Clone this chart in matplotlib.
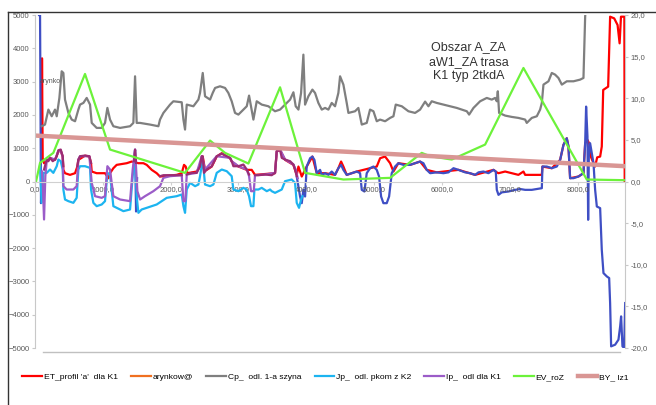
import numpy as np
import matplotlib.pyplot as plt
from matplotlib.lines import Line2D
from matplotlib.ticker import FuncFormatter

plt.rcParams['font.family'] = ['Liberation Sans', 'DejaVu Sans']

nan = np.nan

# ET_profil 'a' dla K1 (right axis)
et_x = [74, 98, 103, 113, 133, 172, 221, 295, 344, 379, 408, 418, 442, 516, 590, 624, 639, 737, 801,
        826, 836, 909, 1032, 1082, 1106, 1155, 1204, 1352, 1426, 1524, 1598, 1647, 1721, 1794, 1843,
        2089, 2163, 2197, 2222, 2247, 2384, 2433, 2473, 2507, 2532, 2606, 2679, 2753, 2827, 2876,
        2900, 2999, 3122, 3156, 3195, 3244, 3539, 3564, 3613, 3687, 3810, 3834, 3859, 3884, 3933,
        4006, 4090, 4154, 4277, 4424, 4473, 4513, 4547, 4596, 4744, 4940, 5039, 5088, 5162, 5236,
        5285, 5358, 5530, 5678, 5776, 5924, 6244, 6489, 6760, 6809, 6834, 6932, 7030, 7128, 7202,
        7227, 7473, 7482, 7620, 7743, 7792, 7841, 7866, 7890, 8013, 8087, 8112, 8146, 8170, 8195,
        8235, 8259, 8289, 8333, 8357, 8378, 8451, 8480, 8540, 8590, 8620, 8640, 8690, 8695]
et_y = [1.8, 2.8, 14.8, 2.8, 2.2, 2.4, 2.8, 2.6, 3.6, 3.7, 3.0, 1.4, 1.0, 0.8, 1.0, 1.8, 2.6, 3.1, 3.0,
        2.2, 1.2, 1.0, 1.0, 0.4, 1.0, 1.6, 2.0, 2.2, 2.4, 2.2, 2.2, 2.0, 1.4, 1.0, 0.6,
        0.8, 1.0, 2.0, 1.8, 1.0, 1.2, 1.8, 3.0, 1.4, 1.4, 1.8, 3.0, 3.4, 3.0, 2.8,
        2.4, 1.8, 1.4, 1.4, 1.4, 0.8, 1.0, 3.6, 3.8, 2.6, 2.0, 1.4, 0.8, 1.8, 0.6,
        1.8, 3.0, 1.0, 1.0, 0.8, 1.6, 2.4, 1.8, 0.8, 1.2, 1.6, 1.8, 2.8, 3.0, 2.2,
        1.2, 2.2, 2.0, 2.4, 1.4, 1.1, 1.4, 0.8, 1.4, 1.1, 1.0, 1.2, 1.0, 0.8, 1.2,
        0.8, 0.8, 1.8, 1.6, 2.6, 4.4, 5.2, 4.2, 0.4, 0.6, 1.0, 4.6, 5.0, 4.6, 3.0,
        2.2, 1.8, 2.9, 3.0, 4.2, 11.0, 11.4, 19.8, 19.6, 18.8, 16.6, 19.8, 19.8, 0.0]

# unnamed dark blue series (right axis)
db_x = [59, 74, 88, 103, nan,
        1460, 1475, 1490, 1505, nan,
        3859, 3908, 3933, 3957, 3982, 4006, 4056, 4090, 4120, 4154, 4203, 4228, 4277, 4326, 4375,
        4424, 4473, 4513, 4547, 4596, 4670, 4744, 4793, 4818, 4857, 4891, 4940, 4990, 5039, 5073,
        5103, 5137, 5186, 5221, 5260, 5309, 5358, 5432, 5530, 5604, 5678, 5727, 5776, 5826, 5924,
        6022, 6096, 6170, 6244, 6342, 6416, 6489, 6539, 6612, 6686, 6760, 6794, 6809, 6834, 6883,
        6981, 7079, 7153, 7227, 7325, 7399, 7473, 7482, 7546, 7620, 7694, 7743, 7792, 7841, 7866,
        7890, 7940, 8013, 8087, 8112, 8126, 8146, 8156, 8166, 8185, 8210, 8235, 8259, 8284, 8333,
        8357, 8382, 8431, 8466, 8480, 8495, 8554, 8603, 8628, 8642, 8662, 8687, 8702]
db_y = [20.0, 20.0, -2.6, 1.0, nan,
        2.4, 3.8, -3.6, 0.4, nan,
        0.6, -1.8, -2.6, -1.0, -1.8, 1.8, 2.8, 3.0, 2.6, 1.0, 1.4, 0.8, 1.0, 0.8, 1.2,
        0.8, 1.6, 2.0, 1.4, 0.8, 1.0, 1.2, 1.0, -1.0, -1.2, 1.0, 1.6, 1.8, 1.4, 0.6,
        -1.8, -2.6, -2.6, -1.8, 1.0, 1.8, 2.2, 2.0, 2.0, 2.2, 2.4, 2.2, 1.4, 1.0, 1.1,
        1.0, 1.1, 1.6, 1.4, 1.1, 1.0, 0.8, 1.1, 1.2, 1.0, 1.4, 1.2, -1.0, -1.6, -1.3,
        -1.2, -1.0, -0.9, -1.0, -1.0, -0.9, -0.8, 1.8, 1.8, 1.6, 1.8, 2.6, 4.4, 5.2, 4.2,
        0.4, 0.4, 0.6, 1.0, 4.6, 9.0, 5.4, -4.6, 3.0, 4.6, 3.4, 2.2, -1.0, -3.0, -3.2,
        -8.2, -11.0, -11.4, -11.6, -14.6, -19.8, -19.6, -19.0, -17.4, -16.2, -19.8, -20.0, -14.6]

# Cp_ odl. 1-a szyna
cp_x = [98, 147, 197, 246, 295, 320, 359, 393, 418, 442, 492, 541, 590, 639, 664, 713, 762, 811, 836,
        909, 983, 1032, 1067, 1106, 1155, 1254, 1401, 1450, 1475, 1499, 1549, 1696, 1819, 1843, 1893,
        1991, 2040, 2163, 2188, 2212, 2237, 2335, 2409, 2433, 2473, 2507, 2581, 2620, 2655, 2728,
        2802, 2851, 2900, 2949, 2999, 3072, 3122, 3156, 3185, 3220, 3269, 3343, 3441, 3539, 3613,
        3687, 3761, 3810, 3844, 3884, 3923, 3957, 3982, 4031, 4090, 4129, 4178, 4228, 4277, 4326,
        4375, 4424, 4473, 4498, 4547, 4596, 4621, 4719, 4768, 4818, 4891, 4940, 4990, 5039, 5088,
        5162, 5236, 5285, 5319, 5408, 5506, 5604, 5678, 5752, 5801, 5850, 5924, 6022, 6121, 6219,
        6293, 6367, 6401, 6465, 6563, 6661, 6735, 6784, 6809, 6824, 6843, 6932, 7030, 7128, 7227,
        7251, 7325, 7399, 7448, 7473, 7497, 7571, 7620, 7669, 7718, 7768, 7841, 7940, 8038, 8087,
        8112, 8127]
cp_y = [1660, 1710, 2160, 1960, 2160, 1960, 2510, 3310, 3260, 2460, 2060, 1860, 1810, 2160, 2310, 2360,
        2510, 2310, 1760, 1610, 1610, 1760, 2210, 1860, 1660, 1610, 1660, 1760, 3160, 1760, 1760, 1710,
        1660, 1860, 2060, 2310, 2410, 2380, 1860, 1560, 2310, 2260, 2460, 2660, 3260, 2560, 2460, 2660,
        2810, 2860, 2810, 2660, 2410, 2060, 2010, 2160, 2260, 2580, 2260, 1860, 2410, 2310, 2260, 2110,
        2160, 2310, 2460, 2680, 2260, 2160, 2660, 3810, 2310, 2560, 2760, 2660, 2360, 2160, 2210, 2160,
        2360, 2260, 2660, 3160, 2910, 2360, 2060, 2110, 2210, 1710, 1760, 2160, 2110, 1810, 1860, 1810,
        1910, 1960, 2310, 2260, 2110, 2060, 2160, 2400, 2260, 2410, 2360, 2310, 2260, 2210, 2160, 2110,
        2010, 2210, 2410, 2510, 2460, 2510, 2410, 2710, 2060, 1980, 1940, 1910, 1860, 1760, 1910, 1960,
        2160, 2360, 2910, 3010, 3260, 3210, 3110, 2910, 3010, 3010, 3060, 3110, 4960, 5300]

# Jp_ odl. pkom z K2
jp_x = [74, 98, 123, 172, 221, 270, 320, 344, 379, 408, 418, 442, 492, 565, 614, 639, 664, 737, 811,
        826, 860, 909, 983, 1032, 1067, 1106, 1155, 1204, 1254, 1303, 1401, 1440, 1475, 1499, 1524,
        1573, 1647, 1794, 1868, 1942, 2089, 2163, 2188, 2212, 2237, 2286, 2360, 2409, 2433, 2473,
        2507, 2581, 2630, 2679, 2753, 2827, 2876, 2900, 2925, 2999, 3072, 3122, 3156, 3185, 3220,
        3235, 3294, 3343, 3417, 3466, 3490, 3539, 3638, 3687, 3785, 3834, 3859, 3893, 3923, 3943]
jp_y = [460, -640, 260, 260, 360, 260, 460, 660, 610, 360, -240, -540, -590, -640, -490, 360, 460, 460,
        410, -240, -640, -740, -690, -590, 260, 210, -740, -790, -840, -890, -840, 160, 760, -440, -940,
        -840, -790, -690, -590, -490, -440, -390, -740, -940, -240, -40, -140, -90, 160, 660,
        -90, -140, -90, 260, 360, 310, 210, 160, -240, -290, -190, -240, -440, -740, -740,
        -240, -240, -190, -290, -240, -290, -340, -240, 10, 60, -40, -640, -790, -540, -440]

# Ip_ odl dla K1
ip_x = [103, 113, 133, 152, 172, 221, 295, 344, 379, 408, 418, 467, 565, 614, 639, 664, 801, 836, 885,
        983, 1032, 1067, 1106, 1155, 1254, 1401, 1440, 1475, 1509, 1549, 1622, 1745, 1843, 1893, 1991,
        2163, 2188, 2217, 2237, 2384, 2458, 2507, 2679, 2876, 2900, 2999, 3122, 3156, 3185, 3225,
        3244, 3392, 3539, 3564, 3613, 3687, 3810, 3844, 3874]
ip_y = [300, -40, -1140, 160, 610, 710, 660, 910, 930, 740, -140, -240, -240, -140, 660, 760, 760, -40,
        -440, -490, -440, 460, 360, -440, -540, -590, 360, 960, -290, -540, -440, -290, -140, 110, 160,
        190, -590, -590, 210, 260, 760, 360, 760, 710, 610, 460, 360, 160, -290, -290,
        190, 210, 260, 910, 960, 660, 510, 360, 100]

# unnamed dark magenta series
mg_x = [133, 172, 197, 221, 261, 295, 320, 344, 379, 408, 418, nan,
        624, 639, 664, 737, 801, 826, nan,
        1460, 1475, 1490, nan,
        1843, 1893, 2040, 2163, nan,
        2237, 2311, 2384, 2433, 2458, 2473, 2492, 2532, 2606, 2679, 2753, 2827, 2876, 2900, 2925,
        2999, 3072, 3122, 3156, nan,
        3244, 3294, 3392, 3490, 3539, 3564, 3613, 3638, 3687, 3761, 3810, 3834, 3859]
mg_y = [360, 660, 610, 710, 610, 660, 760, 940, 960, 760, 460, nan,
        460, 660, 760, 780, 760, 560, nan,
        610, 960, 560, nan,
        160, 190, 190, 190, nan,
        210, 260, 260, 460, 760, 760, 260, 360, 460, 760, 840, 760, 710, 610, 460,
        460, 510, 360, 210, nan,
        190, 190, 210, 190, 260, 910, 960, 710, 660, 610, 510, 360, 160]

# EV_roZ
ev_x = [15, 74, 270, 737, 1106, 2212, 2581, 2802, 3146, 3613, 3982, 4547, 5236, 5702, 5825, 6145, 6637,
        7202, 8136, 8687]
ev_y = [0, 560, 860, 3230, 960, 260, 1230, 860, 540, 2830, 260, 60, 110, 860, 760, 660, 1110,
        3410, 60, 40]

# BY_ lz1
by_x = [0, 8700]
by_y = [1380, 460]

xticks = np.arange(0, 8001, 1000)

fig = plt.figure(figsize=(6.56, 4.05), dpi=100)
ax = fig.add_axes([0.0534, 0.1407, 0.8994, 0.8222])
ax2 = ax.twinx()
ax2.set_zorder(ax.get_zorder() - 1)
ax.patch.set_visible(False)

l_et, = ax2.plot(et_x, et_y, color='#FF0000', lw=1.6)
ax2.plot(db_x, db_y, color='#3F4FC4', lw=1.6)

l_jp, = ax.plot(jp_x, jp_y, color='#1CB4F0', lw=1.6)
l_ip, = ax.plot(ip_x, ip_y, color='#9B5CC8', lw=1.6)
ax.plot(mg_x, mg_y, color='#9B2C74', lw=1.6)
l_cp, = ax.plot(cp_x, cp_y, color='#7F7F7F', lw=1.6)
l_ev, = ax.plot(ev_x, ev_y, color='#6CF23A', lw=1.6)
l_by, = ax.plot(by_x, by_y, color='#D99694', lw=3.2)
l_ar, = ax.plot([], [], color='#F07020', lw=1.6)

ax.set_xlim(0, 8700)
ax.set_ylim(-5000, 5000)
ax2.set_ylim(-20, 20)

ax.set_yticks(np.arange(-5000, 5001, 1000))
ax2.set_yticks(np.arange(-20, 21, 5))
ax2.yaxis.set_major_formatter(FuncFormatter(lambda v, p: f"{v:.1f}".replace('.', ',')))
ax.set_xticks(xticks)
ax.set_xticklabels([f"{v:.1f}".replace('.', ',') for v in xticks])

for s in ['top', 'right']:
    ax.spines[s].set_visible(False)
for s in ['top', 'left', 'bottom']:
    ax2.spines[s].set_visible(False)
ax.spines['bottom'].set_position(('data', 0))
ax.spines['bottom'].set_color('#D0D0D0')
ax.spines['left'].set_color('#C8C8C8')
ax2.spines['right'].set_color('#C8C8C8')

ax.tick_params(axis='y', labelsize=5.5, labelcolor='#595959', color='#C8C8C8', length=2.5, pad=1.5)
ax2.tick_params(axis='y', labelsize=5.5, labelcolor='#595959', color='#C8C8C8', length=2.5, pad=1.5)
ax.tick_params(axis='x', labelsize=5.5, labelcolor='#595959', color='#D0D0D0', length=2, pad=1)

ax.text(6390, 3600, 'Obszar A_ZA\naW1_ZA trasa\nK1 typ 2tkdA', ha='center', va='center',
        fontsize=9, linespacing=1.3, color='#333333')
ax.text(75, 3000, 'arynko', fontsize=5, color='#555555', va='center')

fig.add_artist(Line2D([43 / 656, 620 / 656], [1 - 352 / 405] * 2, color='#C0C0C0', lw=1))
fig.add_artist(Line2D([8 / 656, 8 / 656], [0, 1 - 12 / 405], color='#333333', lw=1))
fig.add_artist(Line2D([8 / 656, 1], [1 - 12 / 405] * 2, color='#333333', lw=1))

handles = [l_et, l_ar, l_cp, l_jp, l_ip, l_ev, l_by]
labels = ["ET_profil 'a'  dla K1", 'arynkow@', 'Cp_  odl. 1-a szyna', 'Jp_  odl. pkom z K2',
          'Ip_  odl dla K1', 'EV_roZ', 'BY_ lz1']
fig.legend(handles, labels, loc='center left', bbox_to_anchor=(0.034, 0.069), ncol=7,
           frameon=False, fontsize=6.1, handlelength=2.3, handletextpad=0.25, columnspacing=1.55,
           borderaxespad=0, borderpad=0)

fig.savefig('out.png', dpi=100)
